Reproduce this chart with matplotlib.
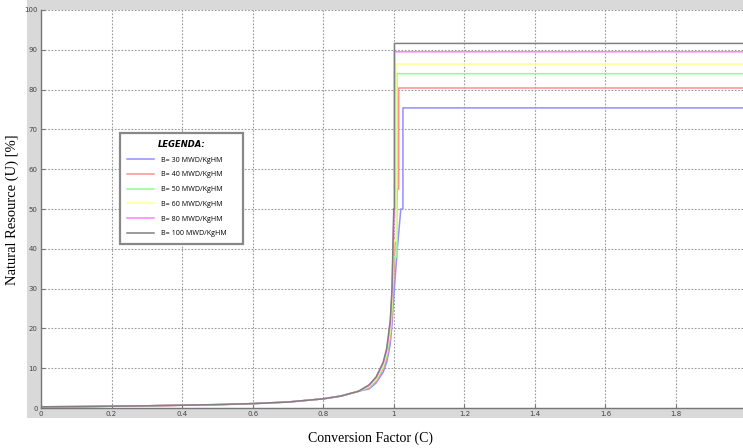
import matplotlib
matplotlib.use('Agg')
from matplotlib import pyplot as plt
from matplotlib.patches import Rectangle

# burnup series (MWD/KgHM) and plateau level of natural resource (%)
burnups = [30, 40, 50, 60, 80, 100]
colors = ['#9090ff', '#ff9090', '#90ff90', '#ffff99', '#ff80ff', '#808080']
plateau = [75.4, 80.4, 84.0, 86.4, 89.5, 91.6]
jump_x = [1.026, 1.014, 1.009, 1.006, 1.002, 1.002]

# shared low part of the curves
head_x = [0.0, 0.1, 0.2, 0.3, 0.4, 0.5, 0.6, 0.7, 0.8, 0.85, 0.9]
head_y = [0.3, 0.35, 0.45, 0.55, 0.7, 0.85, 1.1, 1.5, 2.3, 3.0, 4.2]

# steep part near C = 1, one list per burnup
tail_x = [0.93, 0.95, 0.97, 0.98, 0.99, 0.995, 1.0, 1.01, 1.02]
tail_y = [
    [4.8, 6.3, 9.0, 11.5, 16.0, 21.0, 28.0, 40.0, 50.0],
    [5.1, 6.7, 9.8, 12.6, 17.5, 23.0, 33.0, 55.0],
    [5.3, 7.0, 10.3, 13.3, 19.0, 25.0, 38.0],
    [5.5, 7.3, 10.8, 14.0, 20.0, 27.0, 42.0],
    [5.7, 7.6, 11.2, 14.5, 21.0, 29.0, 48.0],
    [5.8, 7.8, 11.5, 15.0, 22.0, 30.0, 50.0],
]
x_end = 2.0

fig = plt.figure(figsize=(7.43, 4.48), dpi=100)
W, H = 743.0, 448.0
fig.patches.append(Rectangle((27 / W, 1 - 418 / H), 1 - 27 / W, 418 / H,
                             transform=fig.transFigure, facecolor='#d9d9d9',
                             edgecolor='none', zorder=-5))
ax = fig.add_axes([41 / W, 1 - 408 / H, 1 - 41 / W, 398 / H])
ax.set_facecolor('white')

for b, c, p, jx, ty in zip(burnups, colors, plateau, jump_x, tail_y):
    xs = head_x + tail_x[:len(ty)] + [jx, jx, x_end]
    ys = head_y + ty + [ty[-1], p, p]
    ax.plot(xs, ys, color=c, lw=1.1, label='B= %d MWD/KgHM' % b)

ax.set_xlim(0, 1.99)
ax.set_ylim(0, 100)
ax.set_xticks([0, 0.2, 0.4, 0.6, 0.8, 1, 1.2, 1.4, 1.6, 1.8])
ax.set_xticklabels(['0', '0.2', '0.4', '0.6', '0.8', '1', '1.2', '1.4', '1.6', '1.8'])
ax.set_yticks(range(0, 101, 10))
ax.grid(True, color='#999999', linestyle=(0, (1.5, 1.5)), linewidth=0.8)
ax.tick_params(direction='in', length=3, width=0.8, colors='#777777',
               labelsize=5, labelcolor='#444444', pad=2.5)
for s in ['top', 'right']:
    ax.spines[s].set_visible(False)
for s in ['left', 'bottom']:
    ax.spines[s].set_color('#777777')
    ax.spines[s].set_linewidth(1.0)

leg = ax.legend(loc='upper left', bbox_to_anchor=(0.1125, 0.691, 0.175, 0.0),
                mode='expand', borderaxespad=0,
                title='LEGENDA:', handlelength=3.8,
                labelspacing=1.1, borderpad=0.95, handletextpad=1.0,
                fancybox=False, framealpha=1, edgecolor='#888888',
                prop={'family': 'Open Sans', 'size': 5.1})
leg.get_title().set_fontweight('bold')
leg.get_title().set_fontstyle('italic')
leg.get_title().set_fontsize(6)
leg.get_frame().set_linewidth(1.6)

fig.text(12 / W, 1 - 210 / H, 'Natural Resource (U) [%]', rotation=90,
         ha='center', va='center', family='Liberation Serif', fontsize=10.5)
fig.text(370 / W, 1 - 438 / H, 'Conversion Factor (C)',
         ha='center', va='center', family='Liberation Serif', fontsize=10)

fig.savefig('out.png', dpi=100)
